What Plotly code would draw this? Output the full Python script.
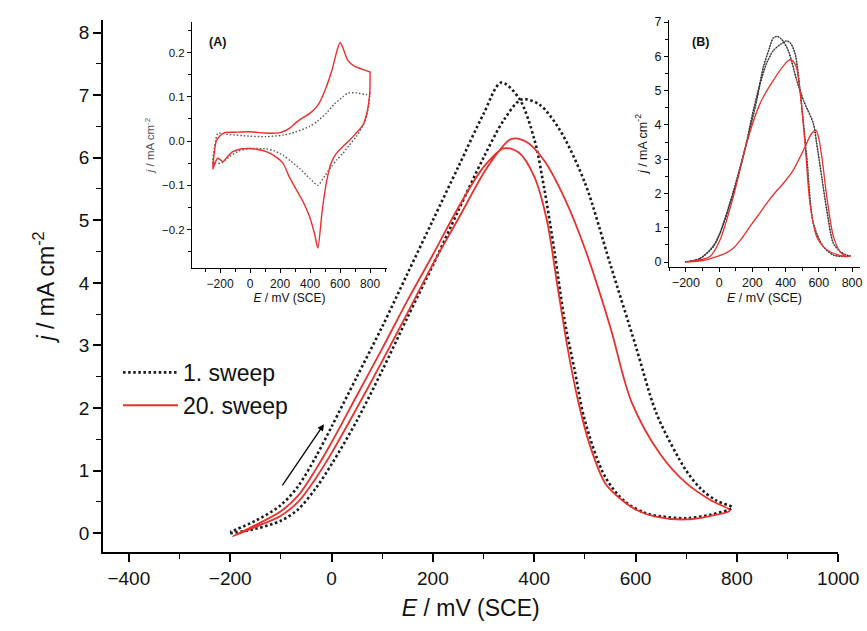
import plotly.graph_objects as go

# ---------------- main chart data ----------------
# 1. sweep (dotted): forward (E increasing) and reverse (E decreasing)
E1_fwd = [-200, -150, -100, -66, -31, 0, 50, 100, 150, 200, 250, 300, 340, 375, 410, 450, 500, 550, 600, 633, 650, 700, 730, 760, 790]
j1_fwd = [0.0, 0.07, 0.2, 0.38, 0.72, 1.1, 1.8, 2.6, 3.45, 4.28, 5.15, 6.0, 6.6, 6.93, 6.85, 6.45, 5.6, 4.3, 3.0, 2.1, 1.75, 1.0, 0.7, 0.52, 0.42]
E1_rev = [790, 750, 700, 650, 620, 580, 540, 500, 480, 460, 440, 420, 400, 370, 335, 300, 250, 200, 150, 100, 50, 0, -31, -66, -100, -150, -200]
j1_rev = [0.4, 0.3, 0.24, 0.27, 0.32, 0.5, 0.9, 1.8, 2.6, 3.4, 4.5, 5.5, 6.3, 6.95, 7.2, 6.7, 5.85, 5.0, 4.15, 3.3, 2.5, 1.7, 1.22, 0.75, 0.45, 0.2, 0.02]

# 20. sweep (red)
E20_fwd = [-195, -150, -100, -66, -31, 0, 50, 100, 150, 200, 250, 300, 330, 355, 385, 420, 460, 500, 550, 592, 650, 700, 750, 785]
j20_fwd = [-0.05, 0.1, 0.28, 0.5, 0.88, 1.28, 2.0, 2.75, 3.52, 4.3, 5.02, 5.75, 6.1, 6.3, 6.25, 5.95, 5.35, 4.55, 3.3, 2.1, 1.25, 0.8, 0.52, 0.38]
E20_rev = [785, 750, 700, 637, 600, 570, 540, 510, 487, 465, 445, 425, 400, 370, 340, 300, 250, 200, 150, 100, 50, 0, -31, -66, -100, -150, -195]
j20_rev = [0.35, 0.28, 0.22, 0.27, 0.38, 0.55, 0.8, 1.4, 2.1, 3.0, 4.0, 5.0, 5.7, 6.08, 6.15, 5.85, 5.2, 4.45, 3.72, 2.95, 2.2, 1.45, 1.02, 0.6, 0.35, 0.13, -0.05]

# ---------------- inset A data ----------------
EA20_an = [-248, -240, -225, -200, -170, -100, 0, 100, 200, 260, 300, 340, 400, 450, 500, 550, 580, 600, 620, 650, 700, 750, 800]
jA20_an = [-0.064, -0.03, 0.0, 0.012, 0.019, 0.02, 0.021, 0.018, 0.019, 0.028, 0.04, 0.05, 0.063, 0.08, 0.115, 0.165, 0.205, 0.223, 0.21, 0.183, 0.168, 0.162, 0.156]
EA20_cat = [800, 798, 780, 752, 700, 663, 620, 575, 540, 508, 480, 452, 430, 397, 350, 308, 260, 219, 160, 108, 50, -3, -60, -115, -150, -181, -200, -215, -235, -248]
jA20_cat = [0.156, 0.11, 0.065, 0.036, 0.015, 0.002, -0.012, -0.028, -0.05, -0.095, -0.16, -0.242, -0.21, -0.171, -0.135, -0.11, -0.08, -0.05, -0.033, -0.024, -0.019, -0.017, -0.018, -0.024, -0.035, -0.047, -0.042, -0.039, -0.05, -0.064]
EA1_an = [-248, -235, -215, -150, -3, 100, 219, 300, 397, 450, 508, 560, 619, 650, 708, 774, 800]
jA1_an = [-0.05, -0.01, 0.017, 0.015, 0.011, 0.01, 0.013, 0.02, 0.033, 0.045, 0.063, 0.083, 0.1, 0.108, 0.109, 0.105, 0.108]
EA1_cat = [800, 786, 760, 708, 660, 619, 580, 541, 500, 452, 400, 330, 270, 219, 160, 108, 50, -3, -70, -137, -192, -230, -248]
jA1_cat = [0.108, 0.07, 0.04, 0.01, -0.01, -0.028, -0.042, -0.058, -0.078, -0.1, -0.085, -0.062, -0.045, -0.032, -0.022, -0.018, -0.017, -0.017, -0.022, -0.035, -0.05, -0.05, -0.05]

# ---------------- inset B data ----------------
EB1_a = [-205, -116, -35, 5, 85, 165, 226, 266, 300, 326, 350, 376, 416, 467, 507, 567, 587, 620, 648, 688, 730, 768, 790]
jB1_a = [0, 0.1, 0.45, 0.83, 2.0, 3.46, 4.72, 5.69, 6.2, 6.54, 6.58, 6.5, 6.17, 5.3, 4.72, 4.04, 3.46, 2.4, 1.51, 0.54, 0.3, 0.2, 0.18]
EB1_b = [790, 768, 688, 627, 567, 527, 487, 457, 430, 406, 370, 326, 286, 246, 200, 165, 85, 5, -35, -116, -205]
jB1_b = [0.18, 0.16, 0.2, 0.45, 1.13, 3.07, 5.0, 6.08, 6.38, 6.45, 6.35, 6.17, 5.8, 5.2, 4.3, 3.5, 2.05, 0.85, 0.47, 0.1, 0]
EB20_a = [-196, -100, -55, 5, 85, 165, 246, 326, 406, 426, 447, 467, 487, 517, 547, 587, 627, 667, 720, 768, 790]
jB20_a = [0, 0.08, 0.16, 0.64, 1.9, 3.46, 4.62, 5.3, 5.83, 5.9, 5.85, 5.64, 5.0, 3.46, 1.7, 0.74, 0.45, 0.3, 0.2, 0.16, 0.17]
EB20_b = [790, 768, 728, 688, 648, 620, 600, 583, 557, 507, 446, 386, 336, 286, 240, 185, 130, 85, 40, -15, -100, -196]
jB20_b = [0.17, 0.16, 0.3, 0.74, 1.9, 3.0, 3.6, 3.84, 3.75, 3.26, 2.68, 2.29, 2.02, 1.71, 1.4, 1.03, 0.65, 0.4, 0.26, 0.16, 0.04, 0]

RED = "#e8312c"
BLK = "#1a1a1a"
FONT = "Liberation Sans, Arial, sans-serif"
SM = 0.9

fig = go.Figure()

# main traces
fig.add_trace(go.Scatter(x=E1_fwd + E1_rev, y=j1_fwd + j1_rev, mode="lines", name="1. sweep",
                         line=dict(color=BLK, width=2.6, dash="2.5px,2.6px", shape="spline", smoothing=SM),
                         xaxis="x", yaxis="y"))
fig.add_trace(go.Scatter(x=E20_fwd + E20_rev, y=j20_fwd + j20_rev, mode="lines", name="20. sweep",
                         line=dict(color=RED, width=1.8, shape="spline", smoothing=SM), xaxis="x", yaxis="y"))

# inset A
fig.add_trace(go.Scatter(x=EA1_an + EA1_cat, y=jA1_an + jA1_cat, mode="lines", showlegend=False,
                         line=dict(color="#555555", width=1.4, dash="1.5px,2px", shape="spline", smoothing=0.6),
                         xaxis="x2", yaxis="y2"))
fig.add_trace(go.Scatter(x=EA20_an + EA20_cat, y=jA20_an + jA20_cat, mode="lines", showlegend=False,
                         line=dict(color=RED, width=1.4, shape="spline", smoothing=0.6), xaxis="x2", yaxis="y2"))

# inset B
fig.add_trace(go.Scatter(x=EB1_a + EB1_b, y=jB1_a + jB1_b, mode="lines", showlegend=False,
                         line=dict(color="#666666", width=1.0, shape="spline", smoothing=0.8), xaxis="x3", yaxis="y3"))
fig.add_trace(go.Scatter(x=EB1_a + EB1_b, y=jB1_a + jB1_b, mode="lines", showlegend=False,
                         line=dict(color="#333333", width=1.6, dash="1.2px,1.6px", shape="spline", smoothing=0.8),
                         xaxis="x3", yaxis="y3"))
fig.add_trace(go.Scatter(x=EB20_a + EB20_b, y=jB20_a + jB20_b, mode="lines", showlegend=False,
                         line=dict(color=RED, width=1.3, shape="spline", smoothing=0.8), xaxis="x3", yaxis="y3"))

axis_common = dict(showline=True, linecolor="black", showgrid=False, zeroline=False,
                   ticks="outside", tickcolor="black", mirror=False, automargin=False)

fig.update_layout(
    width=867, height=631,
    margin=dict(l=103, r=5, t=20, b=79),
    paper_bgcolor="white", plot_bgcolor="rgba(0,0,0,0)",
    font=dict(family=FONT, color="#111111"),
    xaxis=dict(axis_common, domain=[0, 0.9690], range=[-451, 1000.5], anchor="y",
               linewidth=1.5, tickwidth=1.5, ticklen=8, tick0=0, dtick=200,
               minor=dict(ticks="outside", ticklen=5, tickwidth=1.3, dtick=100, tickcolor="black"),
               tickfont=dict(size=19), title=dict(text="<i>E</i> / mV (SCE)", font=dict(size=23), standoff=12)),
    yaxis=dict(axis_common, domain=[0, 1], range=[-0.3, 8.2], anchor="x",
               linewidth=1.5, tickwidth=1.5, ticklen=8, tick0=0, dtick=1,
               minor=dict(ticks="outside", ticklen=5, tickwidth=1.3, dtick=0.5, tickcolor="black"),
               tickfont=dict(size=19), title=dict(text="<i>j</i> / mA cm<sup>-2</sup>", font=dict(size=23), standoff=18)),
    xaxis2=dict(axis_common, domain=[0.1173, 0.3742], range=[-387, 913], anchor="y2",
                linewidth=1.2, tickwidth=1.2, ticklen=4, tick0=0, dtick=200,
                minor=dict(ticks="outside", ticklen=3, tickwidth=1, dtick=100, tickcolor="black"),
                tickfont=dict(size=12), title=dict(text="<i>E</i> / mV (SCE)", font=dict(size=12), standoff=4)),
    yaxis2=dict(axis_common, domain=[0.5338, 0.9962], range=[-0.287, 0.269], anchor="x2",
                linewidth=1.2, tickwidth=1.2, ticklen=4, tick0=0, dtick=0.1, tickformat=".1f",
                minor=dict(ticks="outside", ticklen=3, tickwidth=1, dtick=0.05, tickcolor="black"),
                tickfont=dict(size=11.5), title=dict(text="<i>j</i> / mA cm<sup>-2</sup>", font=dict(size=11.5, color="#555555"), standoff=4)),
    xaxis3=dict(axis_common, domain=[0.7457, 0.9974], range=[-302, 848], anchor="y3",
                linewidth=1.2, tickwidth=1.2, ticklen=4, tick0=0, dtick=200,
                minor=dict(ticks="outside", ticklen=3, tickwidth=1, dtick=100, tickcolor="black"),
                tickfont=dict(size=12.5), title=dict(text="<i>E</i> / mV (SCE)", font=dict(size=12.5), standoff=4)),
    yaxis3=dict(axis_common, domain=[0.5357, 1.0], range=[-0.146, 7.06], anchor="x3",
                linewidth=1.2, tickwidth=1.2, ticklen=4, tick0=0, dtick=1,
                minor=dict(ticks="outside", ticklen=3, tickwidth=1, dtick=0.5, tickcolor="black"),
                tickfont=dict(size=12.5), title=dict(text="<i>j</i> / mA cm<sup>-2</sup>", font=dict(size=12.5), standoff=4)),
    legend=dict(x=0.0198, y=0.378, xanchor="left", yanchor="top", font=dict(size=23),
                bgcolor="rgba(0,0,0,0)", itemwidth=55, tracegroupgap=0),
    annotations=[
        dict(x=-15, y=1.74, ax=-99, ay=0.74, xref="x", yref="y", axref="x", ayref="y",
             showarrow=True, arrowhead=2, arrowsize=1, arrowwidth=1.3, arrowcolor="black", text=""),
        dict(x=0.1515, y=0.9586, xref="paper", yref="paper", text="<b>(A)</b>", showarrow=False,
             font=dict(size=12.5), xanchor="center", yanchor="middle"),
        dict(x=0.7866, y=0.9586, xref="paper", yref="paper", text="<b>(B)</b>", showarrow=False,
             font=dict(size=12.5), xanchor="center", yanchor="middle"),
    ],
)

fig.write_html("out.html", config={"displayModeBar": False},
               post_script="document.body.style.margin='0';document.body.style.padding='0';")
